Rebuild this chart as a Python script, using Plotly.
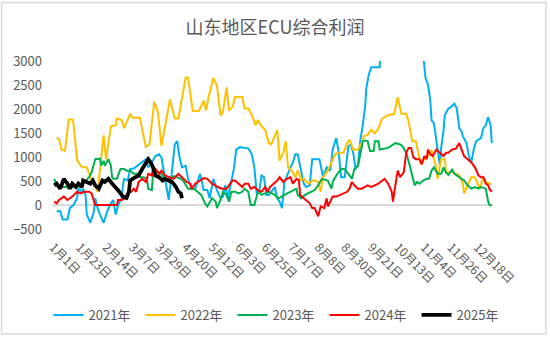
import plotly.graph_objects as go

# ---- data: day of year (0 = 1月1日) and ECU composite profit, 山东地区 ----
days_2021 = [3, 6, 8, 12, 14, 17, 20, 21, 24, 25, 27, 28, 31, 34, 35, 37, 39, 42, 45, 48,
             50, 52, 54, 57, 58, 59, 62, 64, 67, 70, 74, 77, 79, 82, 85, 88, 90, 93, 96, 99,
             101, 103, 105, 107, 110, 112, 115, 118, 122, 125, 128, 130, 133, 136, 139, 141, 143, 145, 147, 150,
             152, 155, 159, 162, 165, 167, 169, 171, 173, 175, 177, 179, 184, 186, 188, 190, 192, 194, 197, 199,
             201, 203, 205, 208, 210, 213, 215, 219, 221, 223, 224, 227, 230, 232, 235, 237, 239, 242, 244, 245,
             247, 249, 251, 253, 255, 257, 259, 260, 262, 264, 271, 272, 285, 297, 306, 309, 311, 313, 314, 316,
             318, 319, 321, 322, 324, 325, 328, 330, 333, 335, 337, 339, 340, 343, 345, 347, 349, 351, 355, 357,
             359, 361, 363, 364]
ecu_2021 = [-130, -130, -300, -300, -65, 0, 140, 340, 275, 340, 210, -200, -370, -130, 140, -65, -200, -370, -130, 35,
            105, -200, 0, 140, 410, 545, 510, 750, 760, 820, 885, 955, 785, 885, 1020, 1055, 990, 510, 105, 785,
            1260, 1330, 990, 785, 820, 545, 340, 340, 650, 310, 310, 140, 545, 310, 140, 175, 410, 140, 410, 750,
            1155, 1205, 1190, 1180, 1055, 785, 240, 275, 615, 580, 210, 210, 375, 140, 70, -65, 480, 615, 785, 885,
            1055, 1055, 820, 445, 375, 410, 955, 955, 955, 715, 580, 785, 715, 1155, 1395, 1090, 580, 580, 1090, 1225,
            1260, 1090, 750, 820, 1360, 1665, 2075, 2450, 2720, 2870, 2870, 3500, 3600, 3500, 3400, 2650, 2515, 2175, 1770, 1700,
            1360, 1090, 820, 1190, 1565, 1870, 2010, 2040, 2110, 2010, 1600, 1530, 1430, 1290, 1020, 885, 1155, 1330, 1395, 1600,
            1665, 1835, 1665, 1290]

days_2022 = [3, 5, 7, 10, 13, 16, 17, 20, 24, 28, 32, 37, 42, 44, 48, 52, 53, 57, 59, 64,
             66, 72, 77, 80, 84, 87, 90, 97, 101, 104, 110, 112, 116, 121, 125, 127, 129, 133, 136, 139,
             141, 144, 146, 149, 151, 157, 159, 162, 165, 168, 170, 173, 176, 179, 181, 186, 188, 191, 193, 195,
             198, 201, 203, 206, 208, 212, 216, 220, 222, 224, 228, 231, 234, 237, 241, 244, 246, 249, 253, 256,
             258, 261, 264, 267, 270, 273, 278, 283, 286, 289, 293, 295, 298, 301, 303, 305, 308, 311, 312, 314,
             316, 318, 319, 322, 325, 326, 332, 335, 337, 340, 341, 344, 347, 350, 352, 354, 357, 359, 362, 364]
ecu_2022 = [1395, 1375, 1160, 1130, 1780, 1780, 1700, 930, 785, 785, 520, 275, 1450, 950, 1640, 1660, 1800, 1770, 1600, 1900,
            1820, 1820, 1210, 1260, 2150, 1940, 1230, 2200, 1800, 1800, 2650, 2650, 1960, 1960, 2170, 1970, 2250, 2640, 2490, 1860,
            1940, 2450, 1970, 2045, 2250, 2250, 2010, 2010, 1870, 1665, 1770, 1640, 1565, 1290, 1260, 1565, 925, 1090, 1330, 785,
            720, 580, 720, 520, 545, 445, 520, 480, 275, 580, 720, 885, 1055, 1090, 1090, 1290, 1360, 1155, 1155, 1290,
            1435, 1460, 1565, 1495, 1600, 1800, 1870, 1900, 2245, 1900, 1900, 1740, 1330, 1330, 1090, 850, 955, 1020, 1090, 1130,
            955, 785, 545, 955, 955, 680, 680, 650, 615, 445, 240, 415, 580, 580, 445, 340, 580, 480, 445, 445]

days_2023 = [1, 3, 6, 10, 14, 18, 22, 25, 30, 32, 35, 37, 39, 40, 42, 43, 46, 48, 49, 50,
             53, 56, 59, 61, 64, 67, 70, 72, 75, 78, 79, 82, 83, 86, 89, 92, 96, 100, 105, 108,
             112, 117, 120, 123, 126, 128, 132, 135, 136, 139, 141, 144, 146, 148, 151, 154, 157, 159, 162, 164,
             167, 170, 173, 176, 179, 184, 187, 192, 197, 199, 202, 203, 206, 209, 215, 217, 220, 223, 228, 231,
             232, 235, 239, 242, 245, 248, 250, 253, 256, 257, 259, 261, 263, 266, 267, 270, 271, 278, 284, 288,
             290, 293, 296, 298, 300, 302, 304, 307, 310, 312, 314, 316, 319, 322, 324, 326, 328, 331, 333, 337,
             341, 344, 347, 350, 353, 355, 359, 361, 362, 364]
ecu_2023 = [545, 430, 370, 380, 350, 390, 380, 445, 580, 680, 955, 965, 965, 820, 920, 820, 955, 820, 580, 545,
            545, 750, 750, 715, 715, 650, 650, 580, 580, 545, 340, 310, 650, 680, 680, 560, 520, 600, 560, 510,
            340, 340, 275, 210, 35, -30, 140, 70, -65, 105, 275, 210, 70, 275, 275, 240, 275, 340, 275, 0,
            0, 275, 210, 240, 275, 210, 140, 210, 275, 310, 340, 210, 140, 210, 275, 310, 410, 545, 510, 340,
            480, 615, 750, 750, 650, 545, 750, 820, 1190, 1330, 1345, 1330, 1125, 1125, 1330, 1330, 1155, 1190, 1290, 1260,
            1225, 1090, 820, 580, 410, 480, 445, 510, 545, 545, 715, 785, 650, 650, 785, 680, 625, 735, 650, 580,
            510, 410, 340, 375, 340, 375, 340, 70, 0, -10]

days_2024 = [1, 3, 5, 9, 12, 16, 20, 23, 26, 30, 32, 35, 53, 54, 57, 60, 63, 65, 67, 69,
             71, 74, 77, 79, 82, 83, 85, 88, 90, 93, 100, 104, 107, 111, 114, 115, 118, 122, 125, 128,
             132, 137, 140, 144, 146, 149, 151, 154, 157, 159, 162, 164, 167, 170, 173, 176, 178, 180, 186, 188,
             191, 194, 197, 199, 202, 204, 205, 208, 210, 213, 215, 217, 220, 222, 225, 227, 228, 231, 232, 235,
             238, 241, 244, 246, 248, 250, 253, 256, 259, 261, 264, 267, 270, 275, 278, 281, 282, 284, 286, 288,
             291, 293, 295, 297, 299, 301, 304, 306, 308, 310, 311, 313, 315, 318, 321, 324, 326, 328, 331, 334,
             337, 339, 341, 344, 347, 350, 353, 355, 357, 359, 361, 362, 364]
ecu_2024 = [70, 35, 105, 175, 105, 175, 275, 240, 275, 275, 240, 0, 0, 105, 105, 140, 275, 275, 340, 275,
            480, 545, 480, 650, 615, 785, 750, 650, 715, 615, 545, 650, 580, 480, 445, 340, 445, 510, 560, 545,
            445, 375, 340, 340, 410, 510, 510, 445, 375, 445, 445, 340, 375, 310, 275, 375, 275, 375, 510, 580,
            480, 545, 580, 445, 545, 520, 210, 140, 105, 35, -65, -65, -235, -30, -65, 140, -30, 140, 175, 175,
            210, 240, 275, 340, 480, 410, 340, 340, 375, 410, 375, 410, 445, 545, 445, 275, 70, 410, 715, 580,
            680, 1090, 1190, 1190, 990, 955, 955, 850, 1020, 955, 1155, 1055, 1020, 1155, 1090, 1020, 1090, 1090, 1155, 1170,
            1290, 1155, 1020, 955, 885, 785, 615, 580, 580, 445, 410, 340, 275]

days_2025 = [1, 3, 6, 9, 12, 14, 16, 19, 21, 24, 25, 28, 31, 33, 35, 38, 41, 43, 46, 49,
             52, 54, 58, 61, 63, 64, 66, 71, 74, 77, 79, 81, 83, 85, 88, 91, 93, 96, 99, 102,
             104, 106, 107]
ecu_2025 = [410, 445, 340, 545, 445, 340, 445, 375, 445, 375, 510, 480, 445, 510, 410, 340, 510, 480, 545, 445,
            375, 310, 175, 150, 275, 510, 545, 615, 750, 885, 955, 885, 785, 615, 580, 510, 545, 510, 475, 375,
            275, 240, 140]

years = ["2021年", "2022年", "2023年", "2024年", "2025年"]
series_days = [days_2021, days_2022, days_2023, days_2024, days_2025]
series_vals = [ecu_2021, ecu_2022, ecu_2023, ecu_2024, ecu_2025]
colors = ["#00B0F0", "#FFC000", "#00B050", "#FF0000", "#000000"]
widths = [2, 2, 2, 2, 3.8]

# x-axis labels every 22 days from 1月1日 (leap-year calendar)
tick_labels = ["1月1日", "1月23日", "2月14日", "3月7日", "3月29日", "4月20日", "5月12日", "6月3日",
               "6月25日", "7月17日", "8月8日", "8月30日", "9月21日", "10月13日", "11月4日", "11月26日",
               "12月18日"]
tick_step = 22

FONT = "Noto Sans CJK SC, Noto Sans, sans-serif"
GREY = "#595959"
W, H = 550, 342
ML, MR, MT, MB = 52.5, 56.5, 61, 109

fig = go.Figure()
for name, d, v, c, w in zip(years, series_days, series_vals, colors, widths):
    fig.add_trace(go.Scatter(x=d, y=v, mode="lines", name=name,
                             line=dict(color=c, width=w)))

# outer chart border
pw, ph = W - ML - MR, H - MT - MB
fig.add_shape(type="rect", xref="paper", yref="paper",
              x0=(1 - ML) / pw, x1=(546.5 - ML) / pw,
              y0=(H - MB - 340.5) / ph, y1=(H - MB - 1) / ph,
              line=dict(color="#D9D9D9", width=1.5), fillcolor="rgba(0,0,0,0)", layer="below")

fig.update_layout(
    width=W, height=H,
    margin=dict(l=ML, r=MR, t=MT, b=MB, pad=0),
    paper_bgcolor="white", plot_bgcolor="white",
    font=dict(family=FONT, color=GREY, size=13),
    title=dict(text="山东地区ECU综合利润", x=0.5, xref="container", xanchor="center",
               y=1 - 27.5 / H, yref="container", yanchor="middle",
               font=dict(family=FONT, size=18, color=GREY)),
    showlegend=True,
    legend=dict(orientation="h", x=(48 - ML) / pw, xanchor="left",
                y=(H - MB - 321) / ph, yanchor="middle",
                font=dict(family=FONT, size=13, color=GREY),
                entrywidth=47, entrywidthmode="pixels", bgcolor="rgba(0,0,0,0)"),
)

fig.update_xaxes(range=[0, 365], tickmode="array",
                 tickvals=[i * tick_step for i in range(len(tick_labels))],
                 ticktext=tick_labels, tickangle=45, showgrid=False, zeroline=False,
                 showline=False, ticks="", ticklabelstandoff=8,
                 tickfont=dict(family=FONT, size=12, color=GREY))
fig.update_yaxes(range=[-500, 3000], dtick=500, showgrid=False, zeroline=True,
                 zerolinecolor="#D9D9D9", zerolinewidth=1.5, showline=False, ticks="",
                 ticklabelstandoff=10, tickfont=dict(family=FONT, size=13, color=GREY))

fig.write_html("out.html")
